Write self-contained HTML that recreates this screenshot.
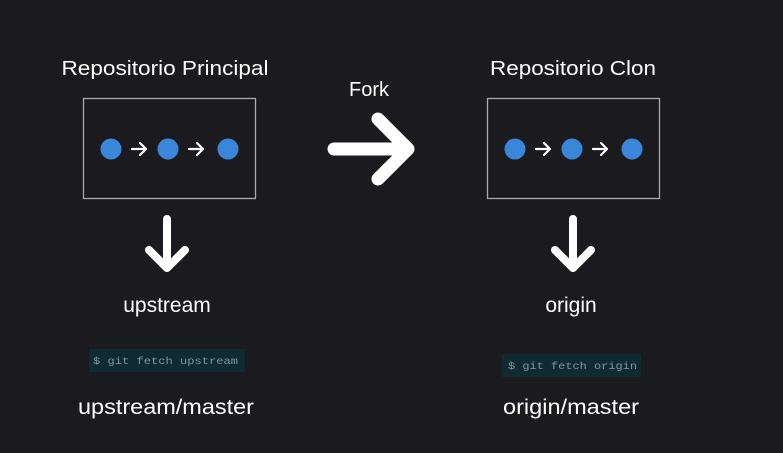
<!DOCTYPE html>
<html><head><style>html,body{margin:0;padding:0;background:#1b1a1f;}svg{display:block}</style></head>
<body>
<svg width="783" height="453" viewBox="0 0 783 453" xmlns="http://www.w3.org/2000/svg">
<rect width="783" height="453" fill="#1b1a1f"/>
<g font-family="Liberation Sans, sans-serif" fill="#fff" text-anchor="middle">
<text x="165" y="75" font-size="20" textLength="207" lengthAdjust="spacingAndGlyphs">Repositorio Principal</text>
<text x="573" y="75" font-size="20" textLength="166" lengthAdjust="spacingAndGlyphs">Repositorio Clon</text>
<text x="369" y="96" font-size="20">Fork</text>
<text x="167" y="312" font-size="21">upstream</text>
<text x="571" y="312" font-size="21">origin</text>
<text x="166" y="414" font-size="21" textLength="176" lengthAdjust="spacingAndGlyphs">upstream/master</text>
<text x="571" y="414" font-size="21" textLength="136" lengthAdjust="spacingAndGlyphs">origin/master</text>
</g>
<g fill="none" stroke="#aaa" stroke-width="1.3">
<rect x="83.5" y="98.5" width="172" height="100"/>
<rect x="487.5" y="98.5" width="172" height="100"/>
</g>
<g fill="#3a86d8">
<circle cx="111" cy="149" r="10.5"/><circle cx="168" cy="149" r="10.5"/><circle cx="228" cy="149" r="10.5"/>
<circle cx="515" cy="149" r="10.5"/><circle cx="572" cy="149" r="10.5"/><circle cx="632" cy="149" r="10.5"/>
</g>
<g stroke="#fff" stroke-width="2.2" fill="none" stroke-linecap="round" stroke-linejoin="round">
<path d="M132 149h14M140 143l6 6-6 6"/>
<path d="M189 149h14M197 143l6 6-6 6"/>
<path d="M536 149h14M544 143l6 6-6 6"/>
<path d="M593 149h14M601 143l6 6-6 6"/>
</g>
<g stroke="#fff" stroke-width="13" fill="none" stroke-linecap="round" stroke-linejoin="round">
<path d="M334 149h73M378 119l30 30-30 30"/>
</g>
<g stroke="#fff" stroke-width="8" fill="none" stroke-linecap="round" stroke-linejoin="round">
<path d="M167 219v49M149 250l18 18 18-18"/>
<path d="M573 219v49M555 250l18 18 18-18"/>
</g>
<rect x="89" y="349" width="156" height="23" fill="#0f2a30"/>
<rect x="502" y="354" width="139" height="23" fill="#0f2a30"/>
<g font-family="Liberation Mono, monospace" font-size="10.5" fill="#7a9a9e">
<text x="93" y="364" textLength="145" lengthAdjust="spacingAndGlyphs">$ git fetch upstream</text>
<text x="508" y="369" textLength="129" lengthAdjust="spacingAndGlyphs">$ git fetch origin</text>
</g>
</svg>
</body></html>
